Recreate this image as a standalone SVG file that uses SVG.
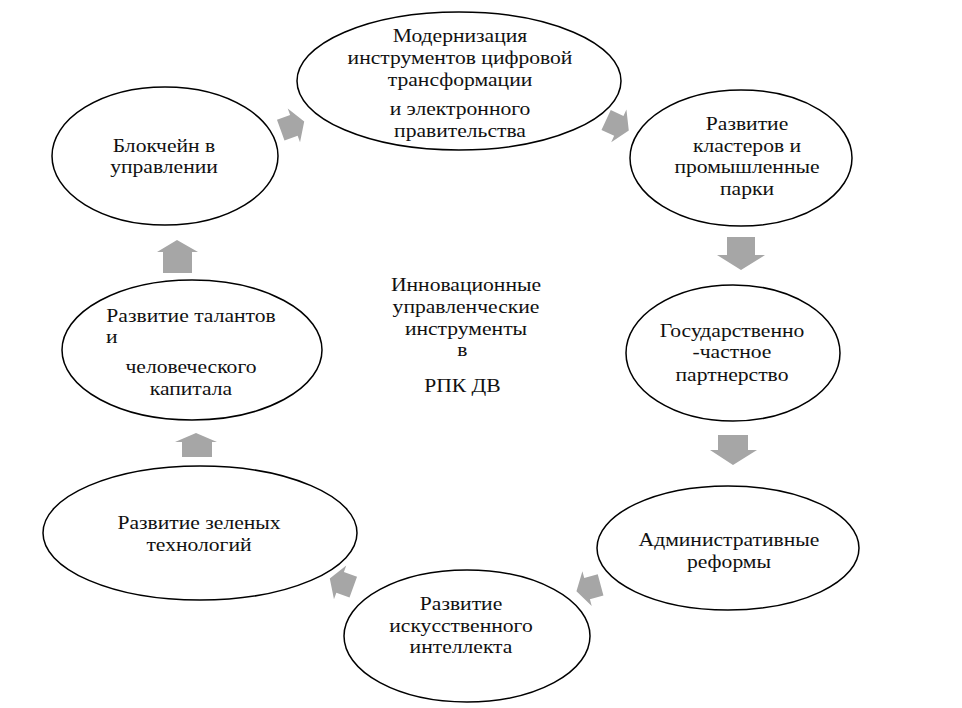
<svg xmlns="http://www.w3.org/2000/svg" xmlns:xlink="http://www.w3.org/1999/xlink" width="962" height="708" viewBox="0 0 962 708">
<style>
.node ellipse{fill:#fff;stroke:#000;stroke-width:1.5}
.arr{fill:#a6a6a6;stroke:none}
</style>
<defs>
<path id="ra" d="M-12,-11 L2,-11 L2,-18 L13,0 L2,18 L2,11 L-12,11 Z"/>
</defs>
<rect width="962" height="708" fill="#fff"/>
<g id="connectors">
<use xlink:href="#ra" class="arr" transform="translate(292,126) rotate(-20)"/>
<use xlink:href="#ra" class="arr" transform="translate(617,125) rotate(25)"/>
<polygon class="arr" points="727,237 755,237 755,255 765,255 741,270 717,255 727,255"/>
<polygon class="arr" points="718,435 748,435 748,450 757,450 733,465 710,450 718,450"/>
<use xlink:href="#ra" class="arr" transform="translate(589,588) rotate(165)"/>
<use xlink:href="#ra" class="arr" transform="translate(342,583) rotate(200)"/>
<polygon class="arr" points="196,433 217,442 212,442 212,457 182,457 182,442 175,442"/>
<polygon class="arr" points="177,240 198,252 192,252 192,273 163,273 163,252 157,252"/>
</g>
<g font-family="Liberation Serif, Times New Roman, serif" font-size="18" fill="#111" text-anchor="middle">
<g id="n-top" class="node">
<ellipse cx="459" cy="81" rx="162" ry="69"/>
<g transform="translate(460,0) scale(1.2,1)">
<text x="0" y="42">Модернизация</text>
<text x="0" y="64">инструментов цифровой</text>
<text x="0" y="86">трансформации</text>
<text x="0" y="115">и электронного</text>
<text x="0" y="137">правительства</text>
</g>
</g>
<g id="n-blockchain" class="node">
<ellipse cx="165" cy="156" rx="113" ry="69"/>
<g transform="translate(164,0) scale(1.2,1)">
<text x="0" y="152">Блокчейн в</text>
<text x="0" y="173">управлении</text>
</g>
</g>
<g id="n-clusters" class="node">
<ellipse cx="741" cy="158" rx="111" ry="68"/>
<g transform="translate(747,0) scale(1.2,1)">
<text x="0" y="130">Развитие</text>
<text x="0" y="152">кластеров и</text>
<text x="0" y="173">промышленные</text>
<text x="0" y="195">парки</text>
</g>
</g>
<g id="n-ppp" class="node">
<ellipse cx="733" cy="353" rx="107" ry="68"/>
<g transform="translate(732,0) scale(1.2,1)">
<text x="0" y="337">Государственно</text>
<text x="0" y="358">-частное</text>
<text x="0" y="381">партнерство</text>
</g>
</g>
<g id="n-admin" class="node">
<ellipse cx="728" cy="548" rx="131" ry="62"/>
<g transform="translate(729,0) scale(1.2,1)">
<text x="0" y="546">Административные</text>
<text x="0" y="568">реформы</text>
</g>
</g>
<g id="n-ai" class="node">
<ellipse cx="467" cy="636" rx="123" ry="66"/>
<g transform="translate(461,0) scale(1.2,1)">
<text x="0" y="610">Развитие</text>
<text x="0" y="632">искусственного</text>
<text x="0" y="653">интеллекта</text>
</g>
</g>
<g id="n-green" class="node">
<ellipse cx="200" cy="533" rx="157" ry="67"/>
<g transform="translate(199,0) scale(1.2,1)">
<text x="0" y="529">Развитие зеленых</text>
<text x="0" y="551">технологий</text>
</g>
</g>
<g id="n-talent" class="node">
<ellipse cx="192" cy="350" rx="130" ry="70"/>
<g transform="translate(191,0) scale(1.2,1)">
<text x="0" y="322">Развитие талантов</text>
<text x="-70.8" y="343" text-anchor="start">и</text>
<text x="0" y="373">человеческого</text>
<text x="0" y="395">капитала</text>
</g>
</g>
<g id="center-label">
<g transform="translate(466,0) scale(1.2,1)">
<text x="0" y="291">Инновационные</text>
<text x="0" y="313">управленческие</text>
<text x="0" y="335">инструменты</text>
<text x="-3" y="356">в</text>
<text x="-3" y="392">РПК ДВ</text>
</g>
</g>
</g>
</svg>
